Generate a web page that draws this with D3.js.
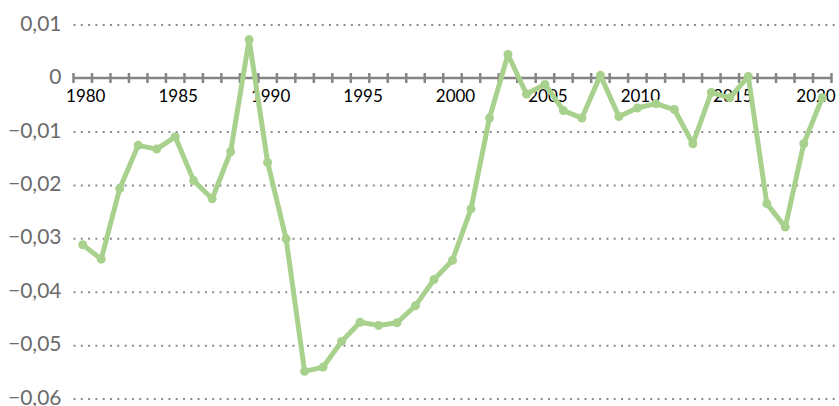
<!DOCTYPE html>
<html>
<head>
<meta charset="utf-8">
<script src="https://cdn.jsdelivr.net/npm/d3@7"></script>
<style>
  body { margin: 0; background: #fff; }
  svg { display: block; }
</style>
</head>
<body>
<svg class="line-graph"></svg>
<script>
var years = d3.range(1980, 2021);
var values = [
    -0.0312, -0.0339, -0.0207, -0.0126, -0.0133, -0.0110, -0.0192, -0.0226, -0.0138, 0.0072,
    -0.0158, -0.0301, -0.0549, -0.0541, -0.0493, -0.0457, -0.0463, -0.0458, -0.0426, -0.0377,
    -0.0341, -0.0245, -0.0075, 0.0044, -0.0030, -0.0012, -0.0061, -0.0075, 0.0005, -0.0072,
    -0.0056, -0.0048, -0.0059, -0.0123, -0.0027, -0.0037, 0.0003, -0.0235, -0.0279, -0.0123,
    -0.0037
];
var yTicks = [0.01, 0, -0.01, -0.02, -0.03, -0.04, -0.05, -0.06];
var xLabels = [1980, 1985, 1990, 1995, 2000, 2005, 2010, 2015, 2020];

var data = years.map(function(d, i) { return {year: d, value: values[i]}; });

var width = 839, height = 406;
var plotLeft = 73.5, plotRight = 831.5;

var x = d3.scaleBand()
    .domain(years)
    .range([plotLeft, plotRight]);

var y = d3.scaleLinear()
    .domain([-0.06, 0.01])
    .range([398.6, 24.6]);

var fmt = function(d) { return d === 0 ? "0" : d3.format(".2f")(d).replace(".", ","); };

var svg = d3.select(".line-graph")
    .attr("width", width)
    .attr("height", height);

// dotted gridlines + y labels
var yAxis = d3.axisLeft(y)
    .tickValues(yTicks.filter(function(d) { return d !== 0; }))
    .tickSize(-(width - plotLeft))
    .tickFormat(fmt);

svg.append("g")
    .attr("transform", "translate(" + plotLeft + ",0)")
    .call(yAxis)
    .call(function(g) {
        g.select(".domain").remove();
        g.selectAll(".tick line")
            .attr("stroke", "#8c8c8c")
            .attr("stroke-width", 2)
            .attr("stroke-dasharray", "2,5.3");
        g.selectAll(".tick text")
            .attr("x", -12)
            .attr("dy", "0.27em")
            .attr("fill", "#6b6b6b")
            .style("font-family", "Lato, 'Open Sans', sans-serif")
            .style("font-size", "21px");
    });

// zero label
svg.append("text")
    .attr("x", plotLeft - 12)
    .attr("y", y(0))
    .attr("dy", "0.27em")
    .attr("text-anchor", "end")
    .attr("fill", "#6b6b6b")
    .style("font-family", "Lato, 'Open Sans', sans-serif")
    .style("font-size", "21px")
    .text(fmt(0));

// category axis on zero line
var xAxisG = svg.append("g")
    .attr("transform", "translate(0," + y(0) + ")");

xAxisG.append("line")
    .attr("x1", plotLeft)
    .attr("x2", plotRight)
    .attr("stroke", "#858585")
    .attr("stroke-width", 2.5);

xAxisG.selectAll(".bound")
    .data(years.concat([2021]))
    .enter().append("line")
    .attr("class", "bound")
    .attr("x1", function(d) { return d === 2021 ? plotRight : x(d); })
    .attr("x2", function(d) { return d === 2021 ? plotRight : x(d); })
    .attr("y1", -5)
    .attr("y2", 5)
    .attr("stroke", "#858585")
    .attr("stroke-width", 2.5);

xAxisG.selectAll(".xlabel")
    .data(xLabels)
    .enter().append("text")
    .attr("class", "xlabel")
    .attr("x", function(d) {
        var cx = x(d) + x.bandwidth() / 2 + 3;
        return Math.min(cx, width - 23);
    })
    .attr("y", 24)
    .attr("text-anchor", "middle")
    .attr("fill", "#000")
    .style("font-family", "Lato, 'Open Sans', sans-serif")
    .style("font-size", "17px")
    .text(function(d) { return d; });

var line = d3.line()
    .x(function(d) { return x(d.year) + x.bandwidth() / 2; })
    .y(function(d) { return y(d.value); });

svg.append("path")
    .datum(data)
    .attr("fill", "none")
    .attr("stroke", "#a9d18e")
    .attr("stroke-width", 5)
    .attr("stroke-linejoin", "round")
    .attr("d", line);

svg.selectAll(".dot")
    .data(data)
    .enter().append("circle")
    .attr("class", "dot")
    .attr("r", 4.5)
    .attr("fill", "#a9d18e")
    .attr("cx", function(d) { return x(d.year) + x.bandwidth() / 2; })
    .attr("cy", function(d) { return y(d.value); });
</script>
</body>
</html>
